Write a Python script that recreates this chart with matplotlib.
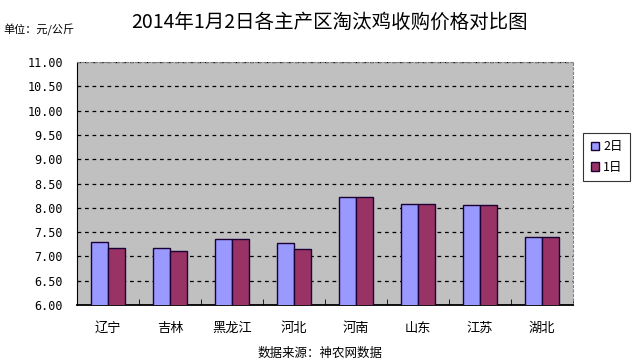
import numpy as np
from matplotlib import pyplot as plt

plt.rcParams['font.family'] = ['Noto Sans CJK SC', 'DejaVu Sans']

regions = ['辽宁', '吉林', '黑龙江', '河北', '河南', '山东', '江苏', '湖北']
price_d2 = [7.29, 7.17, 7.35, 7.27, 8.22, 8.08, 8.05, 7.39]
price_d1 = [7.17, 7.11, 7.35, 7.15, 8.22, 8.08, 8.05, 7.39]
yticks = [6.0, 6.5, 7.0, 7.5, 8.0, 8.5, 9.0, 9.5, 10.0, 10.5, 11.0]

fig = plt.figure(figsize=(6.4, 3.64), dpi=100)
ax = fig.add_axes([0.1203, 0.162, 0.775, 0.6677])
ax.set_facecolor('#C0C0C0')

x = np.arange(len(regions))
w = 0.275
ax.bar(x - w / 2, price_d2, w, color='#9999FF', edgecolor='#1a0033',
       linewidth=1, label='2日', zorder=3)
ax.bar(x + w / 2, price_d1, w, color='#993366', edgecolor='#1a0033',
       linewidth=1, label='1日', zorder=3)

ax.set_ylim(6, 11)
ax.set_xlim(-0.5, len(regions) - 0.5)
ax.set_yticks(yticks)
ax.set_yticklabels(['%.2f' % v for v in yticks], family='DejaVu Sans Mono', fontsize=8.5)
ax.yaxis.grid(True, linestyle=(0, (3, 3)), color='black', linewidth=0.9, zorder=1)
ax.set_axisbelow(True)

ax.set_xticks(x)
ax.set_xticklabels(regions, fontsize=9.5)
ax.set_xticks(np.arange(len(regions) + 1) - 0.5, minor=True)
ax.tick_params(axis='x', which='major', length=0, pad=12)
ax.tick_params(axis='x', which='minor', direction='in', length=4, color='black')
ax.tick_params(axis='y', length=0, pad=10)

ax.spines['left'].set_color('black')
ax.spines['bottom'].set_color('black')
ax.spines['bottom'].set_linewidth(1.3)
for s in ['top', 'right']:
    ax.spines[s].set_linestyle((0, (2, 2)))
    ax.spines[s].set_color('#808080')

leg = fig.legend(loc='upper left', bbox_to_anchor=(0.911, 0.635), fontsize=9,
                 frameon=True, fancybox=False, edgecolor='black',
                 handlelength=0.7, handleheight=0.7, handletextpad=0.3,
                 borderpad=0.6, labelspacing=0.6, borderaxespad=0)
leg.get_frame().set_linewidth(0.8)

fig.text(0.515, 0.94, '2014年1月2日各主产区淘汰鸡收购价格对比图', ha='center', va='center',
         fontsize=14, fontweight='light')
fig.text(0.005, 0.917, '单位：元/公斤', ha='left', va='center', fontsize=8)
fig.text(0.5, 0.03, '数据来源：神农网数据', ha='center', va='center', fontsize=9)

fig.savefig('out.png', dpi=100)
